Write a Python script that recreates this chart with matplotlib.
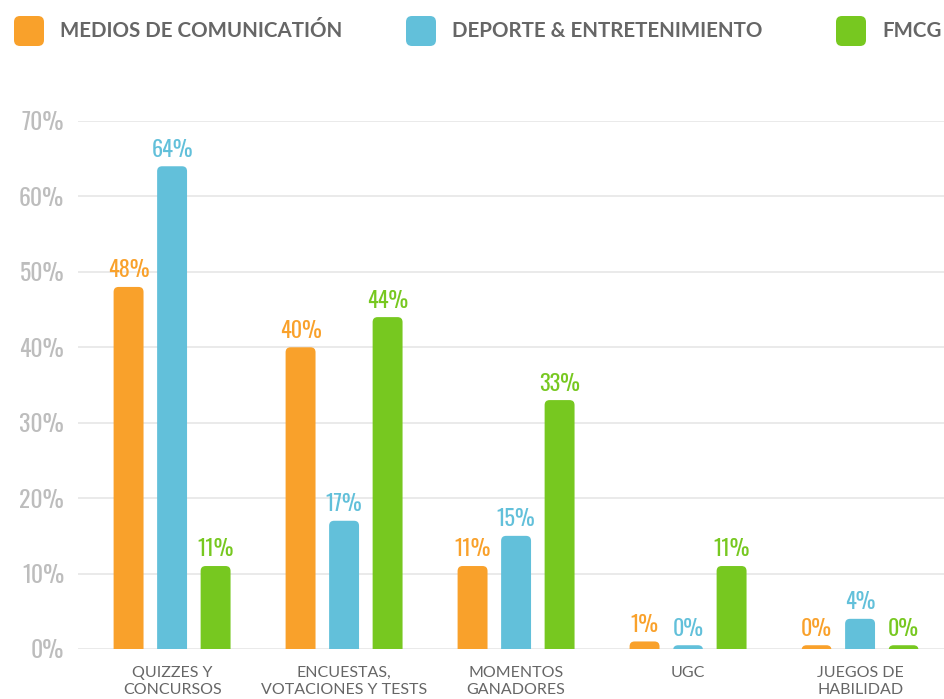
import matplotlib
matplotlib.use("Agg")
import matplotlib.pyplot as plt
from matplotlib.patches import FancyBboxPatch

categories = ["QUIZZES Y\nCONCURSOS", "ENCUESTAS,\nVOTACIONES Y TESTS", "MOMENTOS\nGANADORES",
              "UGC", "JUEGOS DE\nHABILIDAD"]
series_names = ["MEDIOS DE COMUNICATIÓN", "DEPORTE & ENTRETENIMIENTO", "FMCG"]
medios = [48, 40, 11, 1, 0]
deporte = [64, 17, 15, 0, 4]
fmcg = [11, 44, 33, 11, 0]
yticks = [0, 10, 20, 30, 40, 50, 60, 70]

colors = ["#F9A12B", "#62C0DA", "#77C820"]
narrow = ["Oswald", "Roboto Condensed", "DejaVu Sans"]
label_font = ["Lato", "DejaVu Sans"]

W, H = 944, 699
fig = plt.figure(figsize=(W / 100, H / 100), dpi=100)
left, right, bottom, top = 78, 944, 649, 121
ax = fig.add_axes([left / W, (H - bottom) / H, (right - left) / W, (bottom - top) / H])
ax.set_xlim(-0.547, 4.488)
ax.set_ylim(0, 70)

# pixels per data unit, used to get even corner rounding
px_x = (right - left) / (4.488 + 0.547)
px_y = (bottom - top) / 70
radius = 5 / px_x
aspect = px_x / px_y

bar_w = 0.174
offset = 0.253
for i, vals in enumerate([medios, deporte, fmcg]):
    for j, v in enumerate(vals):
        x = j + (i - 1) * offset
        h = max(v, 0.5)
        p = FancyBboxPatch((x - bar_w / 2, -2), bar_w, h + 2,
                           boxstyle=f"round,pad=0,rounding_size={radius}",
                           mutation_aspect=aspect, facecolor=colors[i], edgecolor="none", zorder=3)
        ax.add_patch(p)
        ax.annotate(f"{v}%", (x, h), xytext=(0, 4), textcoords="offset points",
                    ha="center", va="bottom", fontsize=16, color=colors[i], weight=300,
                    family=narrow, annotation_clip=False)

ax.set_yticks(yticks)
ax.set_yticklabels([f"{t}%" for t in yticks], family=narrow, fontsize=17, weight=300,
                   color="#BDBDBD")
ax.set_xticks(range(len(categories)))
ax.set_xticklabels(categories, family=label_font, fontsize=11.5, color="#666666", linespacing=1.3)
ax.tick_params(axis="both", length=0)
ax.tick_params(axis="y", pad=10)
ax.tick_params(axis="x", pad=12)
ax.grid(axis="y", color="#E8E8E8", linewidth=1.3, zorder=0)
ax.set_axisbelow(True)
for s in ax.spines.values():
    s.set_visible(False)

# legend across the top
legend_x = [14, 406, 836]
for name, c, lx in zip(series_names, colors, legend_x):
    box = FancyBboxPatch((lx / W, (H - 46) / H), 30 / W, 30 / H,
                         boxstyle=f"round,pad=0,rounding_size={6 / W}",
                         mutation_aspect=W / H, transform=fig.transFigure,
                         facecolor=c, edgecolor="none")
    fig.add_artist(box)
    fig.text((lx + 46) / W, (H - 31) / H, name, ha="left", va="center", fontsize=14.8,
             weight="bold", color="#666666", family=label_font)

fig.savefig("out.png", dpi=100)
